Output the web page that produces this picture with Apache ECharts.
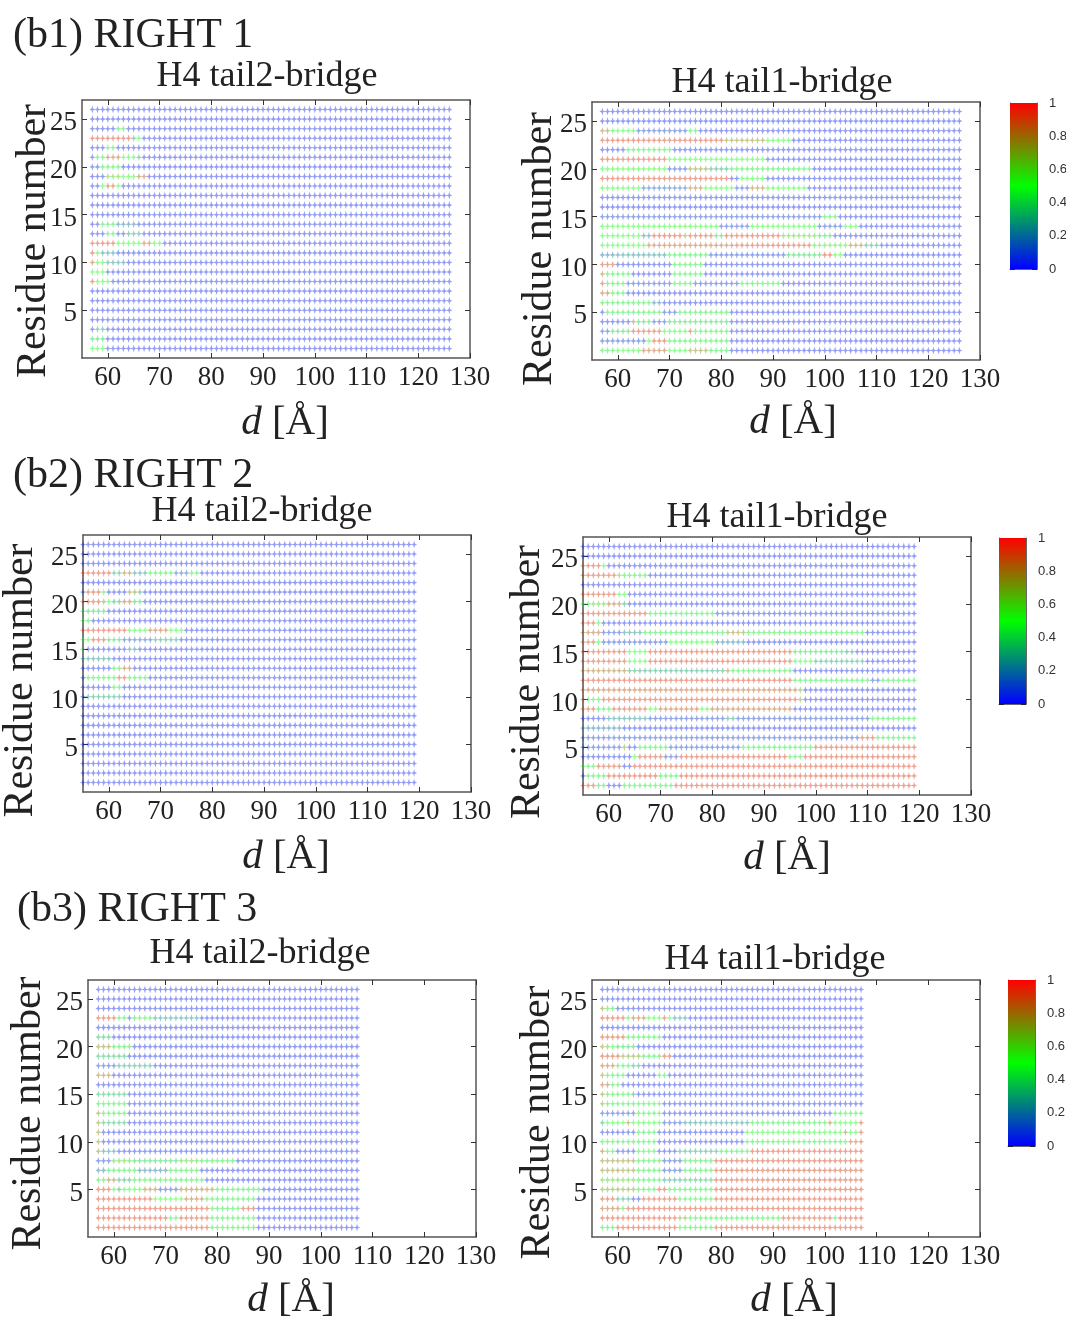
<!DOCTYPE html>
<html>
<head>
<meta charset="utf-8">
<style>
  html, body { margin: 0; background: #fff; }
  #main { width: 1066px; height: 1322px; }
</style>
<script src="https://cdn.jsdelivr.net/npm/echarts@6/dist/echarts.min.js"></script>
</head>
<body>
<div id="main"></div>
<script>
// residue rows run from 26 down to 1, each row is pairs of [count, value]
// going along d, whatever is left in the row is plain blue
var BLUE = 0.05
var xTicks = [60, 70, 80, 90, 100, 110, 120, 130]
var yTicks = [5, 10, 15, 20, 25]
var barTicks = [0, 0.2, 0.4, 0.6, 0.8, 1]

var b1Tail2 = [
  [], [], [5,.05,2,.45],
  [8,.92,1,.3,1,.5],
  [3,.05,2,.45], [1,.1,2,.45,3,.85,3,.5,1,.3], [2,.1,4,.45],
  [3,.05,3,.6,3,.5,2,.85], [2,.05,1,.5,2,.9,1,.5], [], [], [],
  [2,.05,3,.45,4,.2], [3,.05,2,.45,2,.1,3,.3],
  [5,.92,5,.5,2,.85,2,.5], [1,.9,1,.5,3,.25], [1,.85,2,.5,4,.25], [3,.5],
  [1,.9,3,.5], [], [], [], [], [1,.1,2,.3], [3,.4], [3,.5]
]
var b1Tail1 = [
  [], [], [2,.8,5,.5,10,.1,2,.45],
  [24,.92,8,.75,5,.5],
  [5,.05,9,.45], [13,.9,19,.5],
  [13,.5,4,.1,4,.75,4,.3,16,.45],
  [25,.92,2,.05,5,.5],
  [8,.5,9,.15,3,.8,6,.5,3,.1,3,.8,8,.5],
  [], [], [43,.1,3,.45],
  [23,.5,6,.1,13,.5,5,.1,3,.5],
  [8,.5,2,.2,6,.95,1,.7,5,.9,2,.4,11,.92,7,.6,3,.4],
  [9,.5,17,.85,15,.9,7,.55,3,.8,3,.3],
  [3,.2,10,.25,8,.45,15,.1,7,.4,2,.95,2,.5],
  [3,.9,11,.05,6,.45],
  [1,.8,5,.45,8,.05,6,.45],
  [1,.9,4,.45,9,.1,4,.45,9,.1,8,.45],
  [2,.85,3,.45],
  [10,.45,2,.2],
  [1,.05,11,.45,3,.1,10,.45],
  [6,.05,1,.8,3,.4,3,.1,12,.4],
  [2,.1,4,.4,6,.9,5,.5,1,.9,7,.45],
  [9,.1,1,.5,3,.9,12,.45],
  [3,.45,5,.5,5,.85,4,.5,4,.75,4,.45]
]
var b2Tail2 = [
  [], [], [],
  [6,.92,2,.3,2,.8,3,.25,5,.45,3,.15,2,.45],
  [], [1,.1,3,.9,1,.5,4,.05,2,.75,1,.3],
  [4,.9,1,.7,1,.5,2,.3,2,.85,2,.4],
  [5,.4], [2,.45],
  [9,.92,4,.5,4,.85,3,.5],
  [2,.5,3,.9,3,.4,6,.15,5,.3],
  [1,.4,8,.05,2,.25], [6,.25],
  [6,.05,2,.45,2,.85],
  [1,.05,6,.45,2,.9,4,.45],
  [6,.05,2,.45], [1,.05,7,.3],
  [], [], [], [], [], [], [], [], []
]
var b2Tail1 = [
  [], [], [4,.9,1,.5],
  [7,.9,1,.6,5,.45],
  [], [7,.9,2,.5],
  [2,.45,3,.6,3,.85,1,.3],
  [13,.9,13,.45],
  [3,.9,1,.5],
  [4,.85,4,.1,4,.25,16,.45,4,.75,23,.45],
  [3,.85,1,.5,13,.1,9,.5,6,.2],
  [9,.9,4,.5,28,.92,10,.4,2,.25],
  [9,.9,4,.5,28,.92,4,.5,10,.3],
  [9,.8,4,.3,15,.3,1,.8,12,.45],
  [41,.92,15,.45,2,.1,7,.45],
  [42,.85,1,.7],
  [1,.9,3,.45,38,.92,1,.7],
  [3,.9,3,.45,7,.9,2,.5,8,.88,2,.5,16,.85],
  [5,.05,8,.25,15,.1,2,.3,26,.1,9,.45],
  [8,.2],
  [54,.1,3,.9,8,.45],
  [8,.1,1,.7,2,.05,6,.45,14,.1,14,.45,20,.92],
  [10,.05,1,.5,5,.9,3,.1,21,.92,3,.45,22,.92],
  [3,.45,5,.9,2,.05,55,.92],
  [1,.05,4,.45,10,.92,4,.45,46,.92],
  [3,.9,2,.45,3,.05,4,.45,6,.45,47,.92]
]
var b3Tail2 = [
  [], [], [],
  [4,.92,2,.45,1,.1,4,.45,9,.25],
  [], [3,.35],
  [3,.75,4,.45], [6,.35], [4,.1,7,.3],
  [3,.8], [], [6,.35],
  [6,.45], [1,.75,5,.45], [1,.75,5,.35],
  [1,.75], [1,.75], [1,.75,3,.25],
  [3,.1,4,.6,9,.4,4,.6,7,.45],
  [2,.2,6,.45,6,.2,6,.45],
  [2,.45,2,.8,3,.3,14,.45],
  [3,.9,1,.5,1,.3,4,.5,3,.8,4,.1,7,.8,9,.45],
  [11,.92,6,.5,4,.85,10,.45],
  [22,.92,6,.45,3,.9],
  [14,.92,2,.45,6,.9,9,.45],
  [22,.92,9,.45]
]
var b3Tail1 = [
  [], [], [1,.75,2,.45],
  [5,.92,1,.45,3,.85,3,.5,1,.9,1,.5,3,.25],
  [], [5,.9,7,.45],
  [1,.75,1,.65,1,.5,4,.4],
  [4,.9,4,.7,4,.45,2,.9],
  [3,.85,3,.45,2,.3],
  [1,.75,4,.45,6,.05,2,.45],
  [2,.85,2,.45],
  [1,.75,5,.45,1,.3],
  [1,.7,11,.45],
  [7,.1,5,.45,33,.05,6,.45],
  [1,.3,4,.5,1,.75,6,.5,4,.1,13,.25,15,.45,1,.85,5,.5,1,.9],
  [7,.05,4,.45,17,.05,19,.5,1,.8,2,.5,1,.9],
  [11,.45,17,.05,20,.45,2,.85,1,.9],
  [1,.85,2,.45,4,.05,4,.45,4,.05,8,.3,6,.45,22,.92],
  [7,.75,5,.45,4,.1,6,.45,29,.9],
  [7,.75,5,.45,4,.1,6,.45,29,.9],
  [7,.6,5,.45,4,.3,6,.35,29,.9],
  [7,.7,4,.45,2,.9,9,.45,29,.92],
  [3,.9,3,.3,2,.05,7,.9,7,.45,29,.92],
  [4,.85,1,.45,46,.92],
  [15,.92,2,.7,18,.45,10,.9,1,.45,5,.92],
  [3,.45,12,.92,7,.45,29,.92]
]

// pixel layout of the six panels
var panels = [
  { rows: b1Tail2, first: 57, last: 126, title: 'H4 tail2-bridge', left: 82, top: 100, w: 388, h: 258, minX: 55, titleX: 267, titleY: 59, yGap: 27, yShift: 24, xGap: 45, xShift: 18 },
  { rows: b1Tail1, first: 57, last: 126, title: 'H4 tail1-bridge', left: 592, top: 102, w: 388, h: 258, minX: 55, titleX: 782, titleY: 65, yGap: 31, yShift: 36, xGap: 42, xShift: 14 },
  { rows: b2Tail2, first: 55, last: 119, title: 'H4 tail2-bridge', left: 83, top: 535, w: 388, h: 257, minX: 55, titleX: 262, titleY: 494, yGap: 41, yShift: 34, xGap: 45, xShift: 18 },
  { rows: b2Tail1, first: 55, last: 119, title: 'H4 tail1-bridge', left: 583, top: 537, w: 388, h: 258, minX: 55, titleX: 777, titleY: 500, yGap: 34, yShift: 32, xGap: 43, xShift: 20 },
  { rows: b3Tail2, first: 57, last: 107, title: 'H4 tail2-bridge', left: 88, top: 980, w: 388, h: 257, minX: 55, titleX: 260, titleY: 936, yGap: 38, yShift: 10, xGap: 43, xShift: 18 },
  { rows: b3Tail1, first: 57, last: 107, title: 'H4 tail1-bridge', left: 592, top: 980, w: 388, h: 257, minX: 55, titleX: 775, titleY: 942, yGap: 33, yShift: 28, xGap: 43, xShift: 16 }
]
var colorBars = [
  { left: 1010, top: 103, w: 27, h: 166 },
  { left: 999, top: 538, w: 27, h: 166 },
  { left: 1008, top: 980, w: 27, h: 166 }
]
var headings = [
  { text: '(b1) RIGHT 1', x: 13, y: 15 },
  { text: '(b2) RIGHT 2', x: 13, y: 455 },
  { text: '(b3) RIGHT 3', x: 17, y: 889 }
]

var SERIF = 'Liberation Serif'
var INK = '#222'
var FRAME = '#555'
var STAR = 'path://M5 0L6.3 3.7L10 5L6.3 6.3L5 10L3.7 6.3L0 5L3.7 3.7Z'

function toPoints(p) {
  var pts = []
  p.rows.forEach(function (row, i) {
    var residue = 26 - i
    var vals = []
    for (var k = 0; k < row.length; k += 2) {
      for (var n = 0; n < row[k]; n++) vals.push(row[k + 1])
    }
    for (var d = p.first; d <= p.last; d++) {
      var v = vals[d - p.first]
      pts.push([d, residue, v === undefined ? BLUE : v])
    }
  })
  return pts
}

var grid = [], xAxis = [], yAxis = [], series = [], title = []

panels.forEach(function (p) {
  var g = grid.length
  grid.push({ left: p.left, top: p.top, width: p.w, height: p.h, outerBoundsMode: 'none' })
  var line = { show: true, onZero: false, lineStyle: { color: FRAME, width: 1.5 } }
  var tick = { show: true, inside: true, length: 5, lineStyle: { color: '#333', width: 1 } }
  xAxis.push({
    type: 'value', gridIndex: g, min: p.minX, max: 130, position: 'bottom',
    name: '{i|d} [Å]', nameLocation: 'middle', nameGap: p.xGap,
    nameTextStyle: {
      padding: [0, 0, 0, p.xShift], color: INK, fontFamily: SERIF, fontSize: 41,
      rich: { i: { fontStyle: 'italic', fontFamily: SERIF, fontSize: 41, color: INK } }
    },
    axisLine: line, splitLine: { show: false },
    axisTick: Object.assign({ customValues: xTicks }, tick),
    axisLabel: { customValues: xTicks, color: INK, fontFamily: SERIF, fontSize: 27, margin: 6 }
  })
  xAxis.push({
    type: 'value', gridIndex: g, min: p.minX, max: 130, position: 'top',
    axisLine: line, splitLine: { show: false },
    axisTick: Object.assign({ customValues: xTicks }, tick),
    axisLabel: { show: false }
  })
  yAxis.push({
    type: 'value', gridIndex: g, min: 0, max: 27, position: 'left',
    name: 'Residue number', nameLocation: 'middle', nameGap: p.yGap, nameRotate: 90,
    nameMoveOverlap: false,
    nameTextStyle: { padding: [0, p.yShift, 0, 0], color: INK, fontFamily: SERIF, fontSize: 42 },
    axisLine: line, splitLine: { show: false },
    axisTick: Object.assign({ customValues: yTicks }, tick),
    axisLabel: { customValues: yTicks, color: INK, fontFamily: SERIF, fontSize: 27, margin: 5, verticalAlign: 'top', lineHeight: 8 }
  })
  yAxis.push({
    type: 'value', gridIndex: g, min: 0, max: 27, position: 'right',
    axisLine: line, splitLine: { show: false },
    axisTick: Object.assign({ customValues: yTicks }, tick),
    axisLabel: { show: false }
  })
  series.push({
    type: 'scatter',
    xAxisIndex: xAxis.length - 2,
    yAxisIndex: yAxis.length - 2,
    symbol: STAR,
    symbolSize: [6, 8],
    itemStyle: { opacity: 0.42 },
    silent: true,
    data: toPoints(p)
  })
  title.push({
    text: p.title, left: p.titleX, top: p.titleY, textAlign: 'center', padding: 0,
    textStyle: { fontFamily: SERIF, fontWeight: 'normal', fontSize: 36, color: INK }
  })
})

colorBars.forEach(function (c) {
  var g = grid.length
  grid.push({ left: c.left, top: c.top, width: c.w, height: c.h, outerBoundsMode: 'none' })
  var line = { show: true, onZero: false, lineStyle: { color: '#666', width: 1 } }
  var tick = { show: true, inside: true, length: 5, lineStyle: { color: '#222', width: 1 } }
  xAxis.push({
    type: 'category', gridIndex: g, data: [''], boundaryGap: true,
    axisLine: line, axisTick: { show: false }, axisLabel: { show: false }
  })
  yAxis.push({
    type: 'value', gridIndex: g, min: 0, max: 1, interval: 0.2, position: 'right',
    axisLine: line, splitLine: { show: false }, axisTick: tick,
    axisLabel: { customValues: barTicks, color: '#333', fontFamily: 'Liberation Sans', fontSize: 13, margin: 12 }
  })
  yAxis.push({
    type: 'value', gridIndex: g, min: 0, max: 1, interval: 0.2, position: 'left',
    axisLine: line, splitLine: { show: false }, axisTick: tick, axisLabel: { show: false }
  })
  series.push({
    type: 'bar',
    xAxisIndex: xAxis.length - 1,
    yAxisIndex: yAxis.length - 2,
    barWidth: '100%',
    silent: true,
    itemStyle: {
      color: new echarts.graphic.LinearGradient(0, 1, 0, 0, [
        { offset: 0, color: '#0000ff' },
        { offset: 0.5, color: '#00ff00' },
        { offset: 1, color: '#ff0000' }
      ])
    },
    data: [1]
  })
})

headings.forEach(function (h) {
  title.push({
    text: h.text, left: h.x, top: h.y, padding: 0,
    textStyle: { fontFamily: SERIF, fontWeight: 'normal', fontSize: 42, color: INK }
  })
})

var myChart = echarts.init(document.getElementById('main'))
myChart.setOption({
  animation: false,
  backgroundColor: '#fff',
  title: title,
  grid: grid,
  xAxis: xAxis,
  yAxis: yAxis,
  visualMap: {
    show: false,
    min: 0,
    max: 1,
    dimension: 2,
    seriesIndex: [0, 1, 2, 3, 4, 5],
    inRange: { color: ['#0000ff', '#00ff00', '#ff0000'] }
  },
  series: series
})
</script>
</body>
</html>
